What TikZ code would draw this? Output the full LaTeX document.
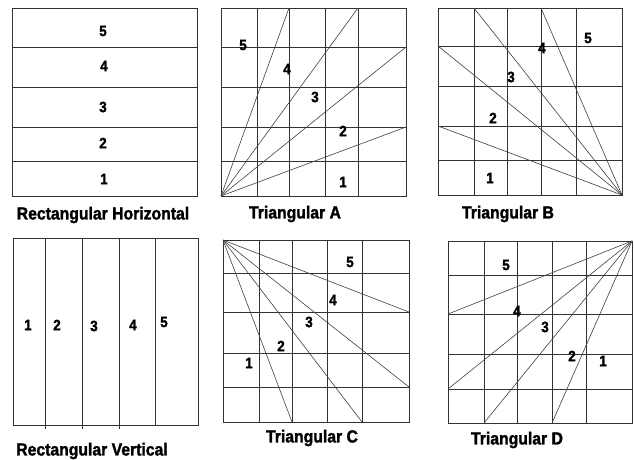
\documentclass[tikz,border=0pt]{standalone}
\usepackage{fontspec}
\newfontfamily\lblfont{Liberation Sans Bold}[FakeStretch=0.9,FakeBold=1.6]
\begin{document}
\begin{tikzpicture}[x=1pt,y=-1pt,
  gridline/.style={draw=black!80,line width=0.8pt},
  rayline/.style={draw=black!75,line width=0.6pt},
  num/.style={font=\lblfont\fontsize{15}{17}\selectfont,inner sep=0pt},
  captext/.style={font=\lblfont\fontsize{17.5}{20}\selectfont,inner sep=0pt}]
\useasboundingbox (0,0) rectangle (634,460);
\fill[white] (0,0) rectangle (634,460);

% Rectangular Horizontal
\draw[gridline] (12,8) rectangle (197,196);
\foreach \y in {47,87,127,161} \draw[gridline] (12,\y) -- (198,\y);
\node[num] (rh5) at (103,31) {5};
\node[num] (rh4) at (104,66) {4};
\node[num] (rh3) at (103,107) {3};
\node[num] (rh2) at (103,143) {2};
\node[num] (rh1) at (104,179) {1};
\node[captext] (rhcap) at (103,215) {Rectangular Horizontal};

% Triangular A
\draw[gridline] (221,8) rectangle (406,196);
\foreach \x in {257,289,325,358} \draw[gridline] (\x,8) -- (\x,196);
\foreach \y in {47,87,127,161} \draw[gridline] (221,\y) -- (406,\y);
\coordinate (ta) at (221,196);
\foreach \p in {(289,8),(358,8),(406,47),(406,127)} \draw[rayline] (ta) -- \p;
\node[num] (ta5) at (243,45) {5};
\node[num] (ta4) at (287,69) {4};
\node[num] (ta3) at (315,97) {3};
\node[num] (ta2) at (343,131) {2};
\node[num] (ta1) at (343,182) {1};
\node[captext] (tacap) at (295,214) {Triangular A};

% Triangular B
\draw[gridline] (438,8) rectangle (622,195);
\foreach \x in {474,507,541,576} \draw[gridline] (\x,8) -- (\x,195);
\foreach \y in {46,86,126,160} \draw[gridline] (438,\y) -- (622,\y);
\coordinate (tb) at (622,195);
\foreach \p in {(474,8),(541,8),(438,46),(438,126)} \draw[rayline] (tb) -- \p;
\node[num] (tb5) at (588,38) {5};
\node[num] (tb4) at (542,48) {4};
\node[num] (tb3) at (511,77) {3};
\node[num] (tb2) at (493,118) {2};
\node[num] (tb1) at (490,178) {1};
\node[captext] (tbcap) at (508,214) {Triangular B};

% Rectangular Vertical
\draw[gridline] (13,238) rectangle (198,425);
\foreach \x in {45,82,119} \draw[gridline] (\x,238) -- (\x,429);
\draw[gridline] (155,238) -- (155,425);
\node[num] (rv1) at (28,325) {1};
\node[num] (rv2) at (57,325) {2};
\node[num] (rv3) at (94,326) {3};
\node[num] (rv4) at (133,325) {4};
\node[num] (rv5) at (164,322) {5};
\node[captext] (rvcap) at (92,451) {Rectangular Vertical};

% Triangular C
\draw[gridline] (223,240) rectangle (409,422);
\foreach \x in {259,292,327,362} \draw[gridline] (\x,240) -- (\x,422);
\foreach \y in {273,312,353,387} \draw[gridline] (223,\y) -- (409,\y);
\coordinate (tc) at (223,240);
\foreach \p in {(292,422),(362,422),(409,312),(409,387)} \draw[rayline] (tc) -- \p;
\node[num] (tc5) at (350,262) {5};
\node[num] (tc4) at (333,300) {4};
\node[num] (tc3) at (309,322) {3};
\node[num] (tc2) at (281,346) {2};
\node[num] (tc1) at (249,363) {1};
\node[captext] (tccap) at (312,438) {Triangular C};

% Triangular D
\draw[gridline] (448,241) rectangle (632,423);
\foreach \x in {484,517,552,586} \draw[gridline] (\x,241) -- (\x,423);
\foreach \y in {275,314,354,389} \draw[gridline] (448,\y) -- (632,\y);
\coordinate (td) at (632,241);
\foreach \p in {(448,314),(448,389),(484,423),(552,423)} \draw[rayline] (td) -- \p;
\node[num] (td5) at (506,265) {5};
\node[num] (td4) at (517,311) {4};
\node[num] (td3) at (545,327) {3};
\node[num] (td2) at (572,356) {2};
\node[num] (td1) at (603,361) {1};
\node[captext] (tdcap) at (517,440) {Triangular D};
\end{tikzpicture}
\end{document}
